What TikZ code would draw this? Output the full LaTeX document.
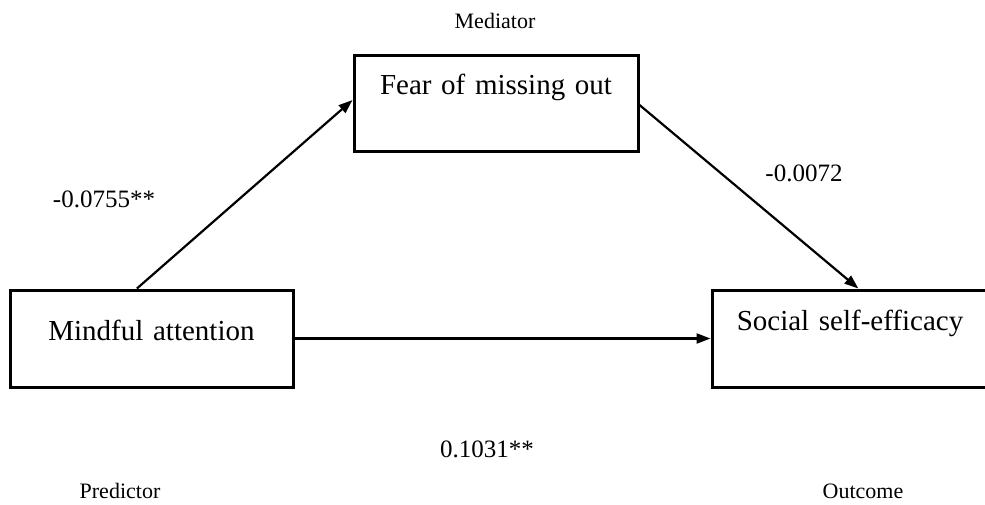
\documentclass[tikz,border=0pt]{standalone}
\usepackage{fontspec}
\setmainfont{Liberation Serif}
\usetikzlibrary{arrows.meta,calc}
\begin{document}
\begin{tikzpicture}[x=1pt,y=-1pt,
  box/.style={draw,line width=3pt,inner sep=0pt,anchor=base,align=center,font=\fontsize{29}{33}\selectfont},
  lbl/.style={inner sep=0pt,anchor=base,font=\fontsize{25}{30}\selectfont},
  tag/.style={inner sep=0pt,anchor=base,font=\fontsize{22}{26}\selectfont},
  conn/.style={line width=2.2pt,-{Triangle[length=14pt,width=10pt]}}]
\useasboundingbox[fill=white] (0,0) rectangle (985,504);
\node[box,text width=284pt,text height=39pt,text depth=57pt] (fm) at (496,94) {Fear of missing out};
\node[box,text width=283pt,text height=50pt,text depth=47pt] (ma) at (151.5,340) {Mindful attention};
\node[box,text width=276pt,text height=40pt,text depth=57pt] (sm) at (850,330) {Social self-efficacy};
\draw[conn] ($(ma.north west)!0.449!(ma.north east)$) -- ($(fm.north west)!0.47!(fm.south west)$);
\draw[conn] ($(fm.north east)!0.52!(fm.south east)$) -- ($(sm.north west)!0.53!(sm.north east)$);
\draw[conn] (ma.east) -- (sm.west);
\node[tag] (med) at (495,28) {Mediator};
\node[tag] (pre) at (120,498) {Predictor};
\node[tag] (out) at (863,498) {Outcome};
\node[lbl] (a) at (104,207) {-0.0755**};
\node[lbl] (b) at (804,181) {-0.0072};
\node[lbl] (c) at (487,457) {0.1031**};
\end{tikzpicture}
\end{document}
